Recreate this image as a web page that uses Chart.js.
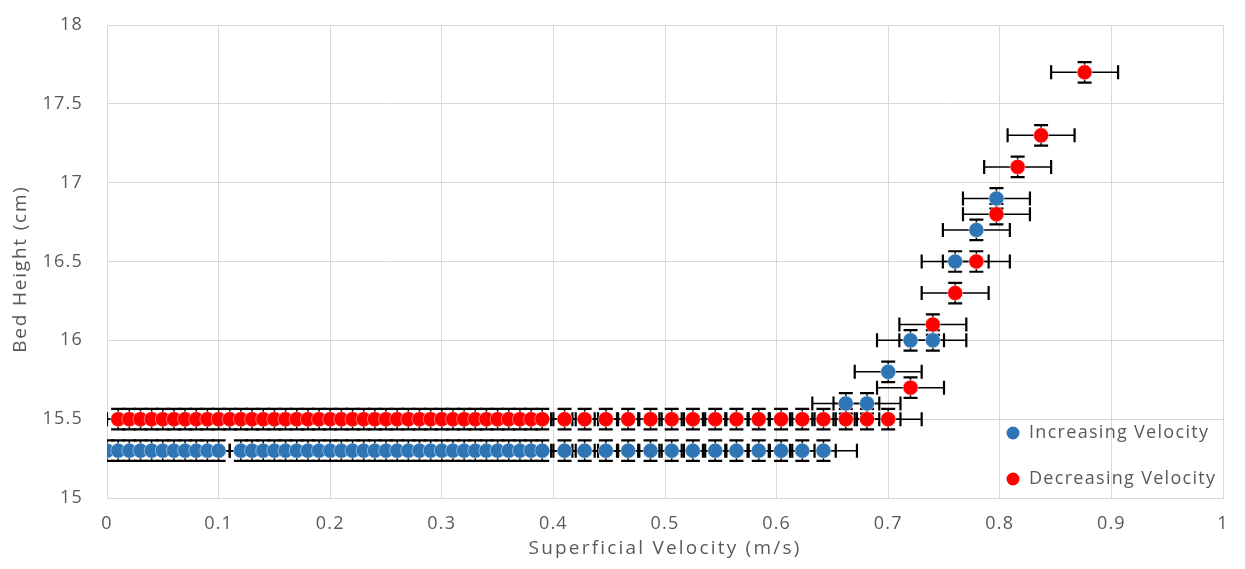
<!DOCTYPE html>
<html>
<head>
<meta charset="utf-8">
<script src="https://cdn.jsdelivr.net/npm/chart.js@4.4.0/dist/chart.umd.min.js"></script>
<style>
  html, body { margin: 0; padding: 0; background: #fff; }
  #wrap { width: 1245px; height: 569px; }
</style>
</head>
<body>
<div id="wrap"><canvas id="myChart"></canvas></div>
<script>
// Increasing velocity run
const incVelocity = [
  0, 0.01, 0.02, 0.03, 0.04, 0.05, 0.06, 0.07, 0.08, 0.09, 0.10,
  0.12, 0.13, 0.14, 0.15, 0.16, 0.17, 0.18, 0.19, 0.20, 0.21, 0.22, 0.23, 0.24, 0.25,
  0.26, 0.27, 0.28, 0.29, 0.30, 0.31, 0.32, 0.33, 0.34, 0.35, 0.36, 0.37, 0.38, 0.39,
  0.41, 0.428, 0.447, 0.467, 0.487, 0.506, 0.525, 0.545, 0.564, 0.584, 0.604, 0.623, 0.642,
  0.662, 0.681, 0.70, 0.72, 0.74, 0.76, 0.779, 0.797
];
const incHeight = [
  15.3, 15.3, 15.3, 15.3, 15.3, 15.3, 15.3, 15.3, 15.3, 15.3, 15.3,
  15.3, 15.3, 15.3, 15.3, 15.3, 15.3, 15.3, 15.3, 15.3, 15.3, 15.3, 15.3, 15.3, 15.3,
  15.3, 15.3, 15.3, 15.3, 15.3, 15.3, 15.3, 15.3, 15.3, 15.3, 15.3, 15.3, 15.3, 15.3,
  15.3, 15.3, 15.3, 15.3, 15.3, 15.3, 15.3, 15.3, 15.3, 15.3, 15.3, 15.3, 15.3,
  15.6, 15.6, 15.8, 16.0, 16.0, 16.5, 16.7, 16.9
];

// Decreasing velocity run
const decVelocity = [
  0.01, 0.02, 0.03, 0.04, 0.05, 0.06, 0.07, 0.08, 0.09, 0.10,
  0.11, 0.12, 0.13, 0.14, 0.15, 0.16, 0.17, 0.18, 0.19, 0.20, 0.21, 0.22, 0.23, 0.24, 0.25,
  0.26, 0.27, 0.28, 0.29, 0.30, 0.31, 0.32, 0.33, 0.34, 0.35, 0.36, 0.37, 0.38, 0.39,
  0.41, 0.428, 0.447, 0.467, 0.487, 0.506, 0.525, 0.545, 0.564, 0.584, 0.604, 0.623, 0.642,
  0.662, 0.681, 0.70,
  0.72, 0.74, 0.76, 0.779, 0.797, 0.816, 0.837, 0.876
];
const decHeight = [
  15.5, 15.5, 15.5, 15.5, 15.5, 15.5, 15.5, 15.5, 15.5, 15.5,
  15.5, 15.5, 15.5, 15.5, 15.5, 15.5, 15.5, 15.5, 15.5, 15.5, 15.5, 15.5, 15.5, 15.5, 15.5,
  15.5, 15.5, 15.5, 15.5, 15.5, 15.5, 15.5, 15.5, 15.5, 15.5, 15.5, 15.5, 15.5, 15.5,
  15.5, 15.5, 15.5, 15.5, 15.5, 15.5, 15.5, 15.5, 15.5, 15.5, 15.5, 15.5, 15.5,
  15.5, 15.5, 15.5,
  15.7, 16.1, 16.3, 16.5, 16.8, 17.1, 17.3, 17.7
];

const seriesNames = ["Increasing Velocity", "Decreasing Velocity"];
const xTitle = "Superficial Velocity (m/s)";
const yTitle = "Bed Height (cm)";
const xError = 0.03;   // m/s, both directions
const yError = 0.065;  // cm, both directions

const textColor = "#595959";
const gridColor = "#d9d9d9";
const fontFamily = "'Open Sans', sans-serif";

const toPoints = (xs, ys) => xs.map((x, i) => ({ x: x, y: ys[i] }));

// the reference text is set quite loose, so space the tick labels a bit
const looseText = {
  id: "looseText",
  beforeDraw(chart) {
    chart.ctx.letterSpacing = "1.2px";
  }
};

// error bars, drawn under the markers
const errorBars = {
  id: "errorBars",
  beforeDatasetsDraw(chart) {
    const ctx = chart.ctx;
    const xs = chart.scales.x, ys = chart.scales.y;
    const area = chart.chartArea;
    const cap = 7;
    ctx.save();
    ctx.beginPath();
    ctx.rect(area.left, area.top, area.right - area.left, area.bottom - area.top);
    ctx.clip();
    ctx.strokeStyle = "#000";
    chart.data.datasets.forEach(ds => {
      ds.data.forEach(p => {
        const px = xs.getPixelForValue(p.x);
        const py = ys.getPixelForValue(p.y);
        const x0 = xs.getPixelForValue(p.x - xError);
        const x1 = xs.getPixelForValue(p.x + xError);
        const y0 = ys.getPixelForValue(p.y + yError);
        const y1 = ys.getPixelForValue(p.y - yError);
        ctx.lineWidth = 1.5;
        ctx.beginPath();
        ctx.moveTo(x0, py); ctx.lineTo(x1, py);
        ctx.moveTo(px, y0); ctx.lineTo(px, y1);
        ctx.stroke();
        ctx.lineWidth = 2.2;
        ctx.beginPath();
        ctx.moveTo(x0, py - cap); ctx.lineTo(x0, py + cap);
        ctx.moveTo(x1, py - cap); ctx.lineTo(x1, py + cap);
        ctx.moveTo(px - cap, y0); ctx.lineTo(px + cap, y0);
        ctx.moveTo(px - cap, y1); ctx.lineTo(px + cap, y1);
        ctx.stroke();
      });
    });
    ctx.restore();
  }
};

// legend sitting inside the plot area, bottom right, plus the axis titles
const insideLegend = {
  id: "insideLegend",
  afterDraw(chart) {
    const ctx = chart.ctx;
    const area = chart.chartArea;
    const rows = [area.bottom - 65, area.bottom - 19];
    ctx.save();
    ctx.font = "18px " + fontFamily;
    ctx.letterSpacing = "1.3px";
    ctx.textBaseline = "middle";
    chart.data.datasets.forEach((ds, i) => {
      const y = rows[i];
      const x = area.right - 210;
      ctx.beginPath();
      ctx.arc(x, y, 6.5, 0, Math.PI * 2);
      ctx.fillStyle = ds.pointBackgroundColor;
      ctx.fill();
      ctx.fillStyle = textColor;
      ctx.fillText(ds.label, x + 16, y);
    });

    ctx.textAlign = "center";
    ctx.font = "19px " + fontFamily;
    ctx.letterSpacing = "2.2px";
    ctx.fillText(xTitle, (area.left + area.right) / 2, 549);

    ctx.translate(21, 269);
    ctx.rotate(-Math.PI / 2);
    ctx.letterSpacing = "1.8px";
    ctx.fillText(yTitle, 0, 0);
    ctx.restore();
  }
};

new Chart(document.getElementById("myChart"), {
  type: "scatter",
  data: {
    datasets: [
      {
        label: seriesNames[0],
        data: toPoints(incVelocity, incHeight),
        pointBackgroundColor: "#2e75b6",
        pointBorderColor: "rgba(255,255,255,0.45)",
        pointBorderWidth: 1,
        pointRadius: 7.5,
        order: 1
      },
      {
        label: seriesNames[1],
        data: toPoints(decVelocity, decHeight),
        pointBackgroundColor: "#ff0000",
        pointBorderColor: "rgba(255,255,255,0.45)",
        pointBorderWidth: 1,
        pointRadius: 7.5,
        order: 0
      }
    ]
  },
  options: {
    responsive: true,
    maintainAspectRatio: false,
    animation: false,
    layout: { padding: { left: 0, right: 22, top: 25, bottom: 0 } },
    plugins: {
      legend: { display: false },
      tooltip: { enabled: false }
    },
    scales: {
      x: {
        type: "linear",
        min: 0,
        max: 1,
        afterFit: s => { s.height = 71; s.paddingLeft = 0; s.paddingRight = 0; },
        ticks: {
          stepSize: 0.1,
          padding: 15,
          color: textColor,
          font: { family: fontFamily, size: 18 },
          callback: v => String(+v.toFixed(1))
        },
        grid: { color: gridColor, drawTicks: false },
        border: { color: gridColor }
      },
      y: {
        min: 15,
        max: 18,
        afterFit: s => { s.width = 107; s.paddingTop = 0; s.paddingBottom = 0; },
        ticks: {
          stepSize: 0.5,
          padding: 24,
          color: textColor,
          font: { family: fontFamily, size: 18 },
          callback: v => String(+v.toFixed(1))
        },
        grid: { color: gridColor, drawTicks: false },
        border: { color: gridColor }
      }
    }
  },
  plugins: [looseText, errorBars, insideLegend]
});
</script>
</body>
</html>
